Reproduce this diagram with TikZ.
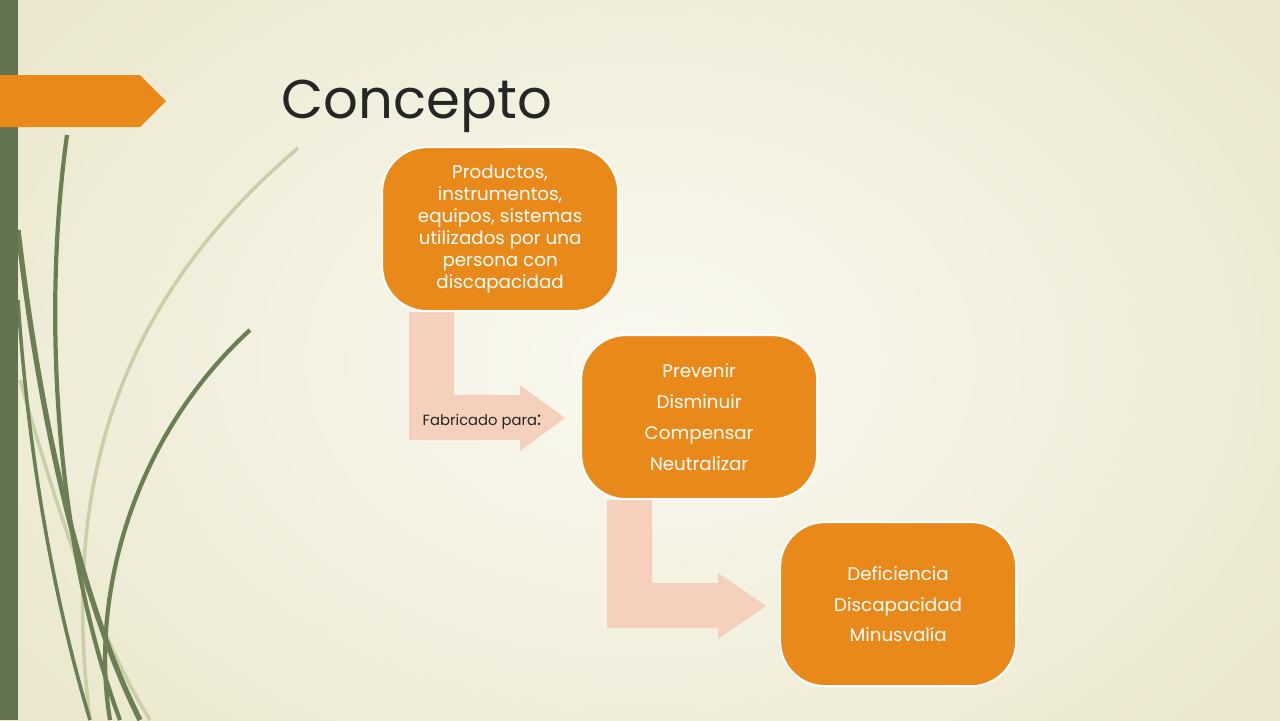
\documentclass[tikz,border=0pt]{standalone}
\usepackage{fontspec}
\setmainfont{Poppins}
\definecolor{orange1}{HTML}{E8891A}
\definecolor{peach}{HTML}{F4D0BD}
\definecolor{grassc}{HTML}{6B7F55}
\definecolor{lgrass}{HTML}{C9CFA8}
\definecolor{barc}{HTML}{627352}
\definecolor{darkt}{HTML}{262626}
\definecolor{bgout}{HTML}{E8E4C8}
\definecolor{bgin}{HTML}{FAF9F0}
\begin{document}
\begin{tikzpicture}[x=0.01cm,y=-0.01cm,
  box/.style={draw=white,line width=0.6pt,fill=orange1,rounded corners=0.45cm,minimum width=2.36cm,minimum height=1.64cm,anchor=north west,text=white,align=center,font=\fontsize{5.2}{6.3}\selectfont},
  bent/.style={fill=peach,draw=none},
  grass/.style={draw=grassc,line width=0.5pt}]
\useasboundingbox (0,0) rectangle (1280,720);
\clip (0,0) rectangle (1280,720);
\shade[inner color=bgin,outer color=bgout] (-300,-300) rectangle (1580,1020);
% grass
\draw[lgrass,line width=1pt] (298,148) .. controls (120,300) and (60,480) .. (90,720);
\draw[lgrass,line width=1pt] (20,380) .. controls (60,520) and (100,640) .. (150,720);
\draw[grass,line width=1.2pt] (67,135) .. controls (40,330) and (60,560) .. (120,720);
\draw[grass,line width=1.2pt] (250,330) .. controls (130,440) and (90,600) .. (110,720);
\draw[grass,line width=1.5pt] (18,230) .. controls (40,420) and (80,600) .. (140,720);
\draw[grass,line width=1pt] (18,300) .. controls (30,480) and (60,620) .. (90,720);
\fill[barc] (0,0) rectangle (18,720);
\fill[orange1] (0,75) -- (140,75) -- (166,101) -- (140,127) -- (0,127) -- cycle;
\node[anchor=base west,inner sep=0,text=darkt,font=\fontsize{15.5}{18}\selectfont] (title) at (281,118) {Concepto};
% arrows
\fill[bent] (409,312) -- (454,312) -- (454,395) -- (520,395) -- (520,385) -- (565,418) -- (520,451) -- (520,440) -- (409,440) -- cycle;
\fill[bent] (607,500) -- (652,500) -- (652,583) -- (718,583) -- (718,573) -- (766,606) -- (718,639) -- (718,628) -- (607,628) -- cycle;
\node[box] (b1) at (381,146) {Productos,\\instrumentos,\\equipos, sistemas\\utilizados por una\\persona con\\discapacidad};
\node[box,font=\fontsize{5.2}{8.8}\selectfont] (b2) at (580,334) {Prevenir\\Disminuir\\Compensar\\Neutralizar};
\node[box,font=\fontsize{5.2}{8.8}\selectfont] (b3) at (779,521) {Deficiencia\\Discapacidad\\Minusvalía};
\node[anchor=base west,inner sep=0,font=\fontsize{4.2}{5}\selectfont,text=darkt] (lab) at (422,425) {Fabricado para\fontsize{5.5}{6}\selectfont:};
\end{tikzpicture}
\end{document}
